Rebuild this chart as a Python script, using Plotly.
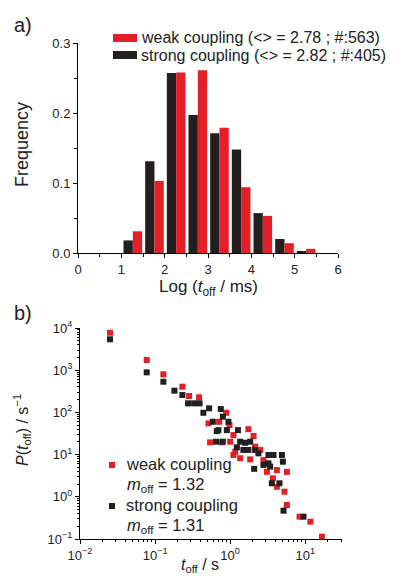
import plotly.graph_objects as go

# ---------------- Panel a data ----------------
bin_centers = [1.25, 1.75, 2.25, 2.75, 3.25, 3.75, 4.25, 4.75, 5.25]
freq_weak = [0.031, 0.103, 0.258, 0.261, 0.179, 0.094, 0.053, 0.014, 0.006]
freq_strong = [0.018, 0.131, 0.257, 0.197, 0.171, 0.148, 0.057, 0.020, 0.002]
legend_a = ["weak coupling (<> = 2.78 ; #:563)", "strong coupling (<> = 2.82 ; #:405)"]

# ---------------- Panel b data ----------------
t_weak = [0.0251, 0.0774, 0.129, 0.231, 0.284, 0.386, 0.885, 0.514, 0.713, 0.98,
          1.75, 2.05, 0.541, 0.774, 1.0, 1.107, 1.36, 1.85, 2.15, 2.51,
          2.78, 3.08, 4.19, 5.70, 3.71, 4.19, 5.30, 5.70, 8.4, 11.7,
          16.7, 1.107, 1.17]
p_weak = [7740, 1744, 800, 407, 245, 228, 98, 55, 60, 50,
          40, 27.6, 19.5, 19.5, 20.2, 9.8, 8.2, 7.7, 15.4, 12.9,
          7.4, 3.9, 4.3, 3.9, 2.74, 1.73, 1.32, 0.64, 0.338, 0.257,
          0.1135, 29, 11.7]

t_strong = [0.0251, 0.0774, 0.129, 0.181, 0.231, 0.275, 0.331, 0.392, 0.44, 0.525,
            0.751, 0.80, 0.948, 0.588, 0.698, 0.904, 1.27, 0.65, 0.80, 1.36,
            1.585, 1.85, 1.23, 1.50, 1.75, 2.15, 2.38, 3.24, 3.78, 5.04,
            2.78, 3.24, 3.41, 2.09, 3.59, 4.54, 5.14, 9.49, 0.664, 4.89]
p_strong = [5400, 891, 533, 327, 258, 164, 164, 164, 98, 125,
            120, 79, 60, 60, 38, 38, 38, 20.2, 20.2, 20.2,
            19.1, 20.2, 14.9, 12.9, 12.9, 12.9, 10.7, 9.8, 9.8, 6.8,
            5.7, 6.2, 5.2, 4.6, 2.09, 2.09, 0.469, 0.338, 36, 9.8]

legend_b = ["weak coupling", "<i>m</i><sub>off</sub> = 1.32",
            "strong coupling", "<i>m</i><sub>off</sub> = 1.31"]

RED = "#e41f26"
BLK = "#231f20"
FONT = "Liberation Sans, Arial, sans-serif"

W, H = 399, 576
def px(x):
    return x / W
def py(y):
    return 1 - y / H

fig = go.Figure()

# bars
fig.add_trace(go.Bar(x=bin_centers, y=freq_strong, width=0.215, offset=-0.2,
                     marker=dict(color=BLK, line=dict(width=0)), xaxis="x", yaxis="y",
                     showlegend=False))
fig.add_trace(go.Bar(x=bin_centers, y=freq_weak, width=0.215, offset=0.015,
                     marker=dict(color=RED, line=dict(width=0)), xaxis="x", yaxis="y",
                     showlegend=False))

# scatter
fig.add_trace(go.Scatter(x=t_weak, y=p_weak, mode="markers",
                         marker=dict(symbol="square", size=6, color=RED),
                         xaxis="x2", yaxis="y2", showlegend=False))
fig.add_trace(go.Scatter(x=t_strong, y=p_strong, mode="markers",
                         marker=dict(symbol="square", size=6, color=BLK),
                         xaxis="x2", yaxis="y2", showlegend=False))

axis_common = dict(showline=True, linecolor="black", linewidth=1, ticks="outside",
                   tickcolor="black", tickwidth=1, showgrid=False, zeroline=False,
                   mirror=False, automargin=False,
                   tickfont=dict(family=FONT, size=13, color="#222"))

def minor_log(lo, hi):
    vals = []
    for k in range(lo, hi + 1):
        for m in range(2, 10):
            vals.append(m * 10 ** k)
    return vals

def sup(k):
    s = str(k).replace("-", "\u2212")
    return "10<sup>" + s + "</sup>"

fig.update_layout(
    template="none",
    width=W, height=H,
    margin=dict(l=0, r=0, t=0, b=0),
    paper_bgcolor="white", plot_bgcolor="white",
    barmode="overlay",
    xaxis=dict(domain=[px(78), px(338)], range=[0, 6], anchor="y",
               tickvals=[0, 1, 2, 3, 4, 5, 6], ticklen=4,
               minor=dict(tickvals=[0.5, 1.5, 2.5, 3.5, 4.5, 5.5], ticks="outside",
                          ticklen=3, tickcolor="black"),
               **axis_common),
    yaxis=dict(domain=[py(253), py(43)], range=[0, 0.3], anchor="x",
               tickvals=[0, 0.1, 0.2, 0.3], ticktext=["0.0", "0.1", "0.2", "0.3"], ticklen=4,
               minor=dict(tickvals=[0.05, 0.15, 0.25], ticks="outside",
                          ticklen=3, tickcolor="black"),
               **axis_common),
    xaxis2=dict(domain=[px(80), px(342)], type="log", range=[-2, 1.49], anchor="y2",
                tickvals=[0.01, 0.1, 1, 10], ticktext=[sup(-2), sup(-1), sup(0), sup(1)],
                ticklen=4,
                minor=dict(tickvals=minor_log(-2, 1), ticks="outside", ticklen=2,
                           tickcolor="black"),
                **axis_common),
    yaxis2=dict(domain=[py(539), py(328)], type="log", range=[-1, 4], anchor="x2",
                tickvals=[0.1, 1, 10, 100, 1000, 10000],
                ticktext=[sup(-1), sup(0), sup(1), sup(2), sup(3), sup(4)],
                ticklen=4,
                minor=dict(tickvals=minor_log(-1, 3), ticks="outside", ticklen=2,
                           tickcolor="black"),
                **axis_common),
)

ann = []
def text(x, y, s, size=15, xanchor="left", yanchor="middle", angle=0):
    ann.append(dict(x=px(x), y=py(y), xref="paper", yref="paper", text=s, showarrow=False,
                    xanchor=xanchor, yanchor=yanchor, textangle=angle,
                    font=dict(family=FONT, size=size, color="#222")))

# panel labels
text(12, 25, "a)", size=20)
text(12, 313, "b)", size=20)

# axis titles
text(22, 145, "Frequency", size=18, xanchor="center", angle=-90)
text(208, 288, "Log (<i>t</i><sub>off</sub> / ms)", size=17, xanchor="center")
text(22, 430, "<i>P</i>(<i>t</i><sub>off</sub>) / s<sup>\u22121</sup>", size=16,
     xanchor="center", angle=-90)
text(200, 565, "<i>t</i><sub>off</sub> / s", size=16, xanchor="center")

# panel a legend
shapes = [
    dict(type="rect", xref="paper", yref="paper", x0=px(113), x1=px(137), y0=py(42), y1=py(34),
         fillcolor=RED, line=dict(width=0)),
    dict(type="rect", xref="paper", yref="paper", x0=px(113), x1=px(137), y0=py(59), y1=py(51),
         fillcolor=BLK, line=dict(width=0)),
    dict(type="rect", xref="paper", yref="paper", x0=px(109), x1=px(115), y0=py(468), y1=py(462),
         fillcolor=RED, line=dict(width=0)),
    dict(type="rect", xref="paper", yref="paper", x0=px(109), x1=px(115), y0=py(509), y1=py(503),
         fillcolor=BLK, line=dict(width=0)),
]
text(139, 38, legend_a[0], size=16)
text(139, 55, legend_a[1], size=16)

# panel b legend
text(124, 464, legend_b[0], size=16.5)
text(125, 485, legend_b[1], size=16.5)
text(124, 505, legend_b[2], size=16.5)
text(125, 526, legend_b[3], size=16.5)

fig.update_layout(annotations=ann, shapes=shapes)

fig.write_html("out.html")
